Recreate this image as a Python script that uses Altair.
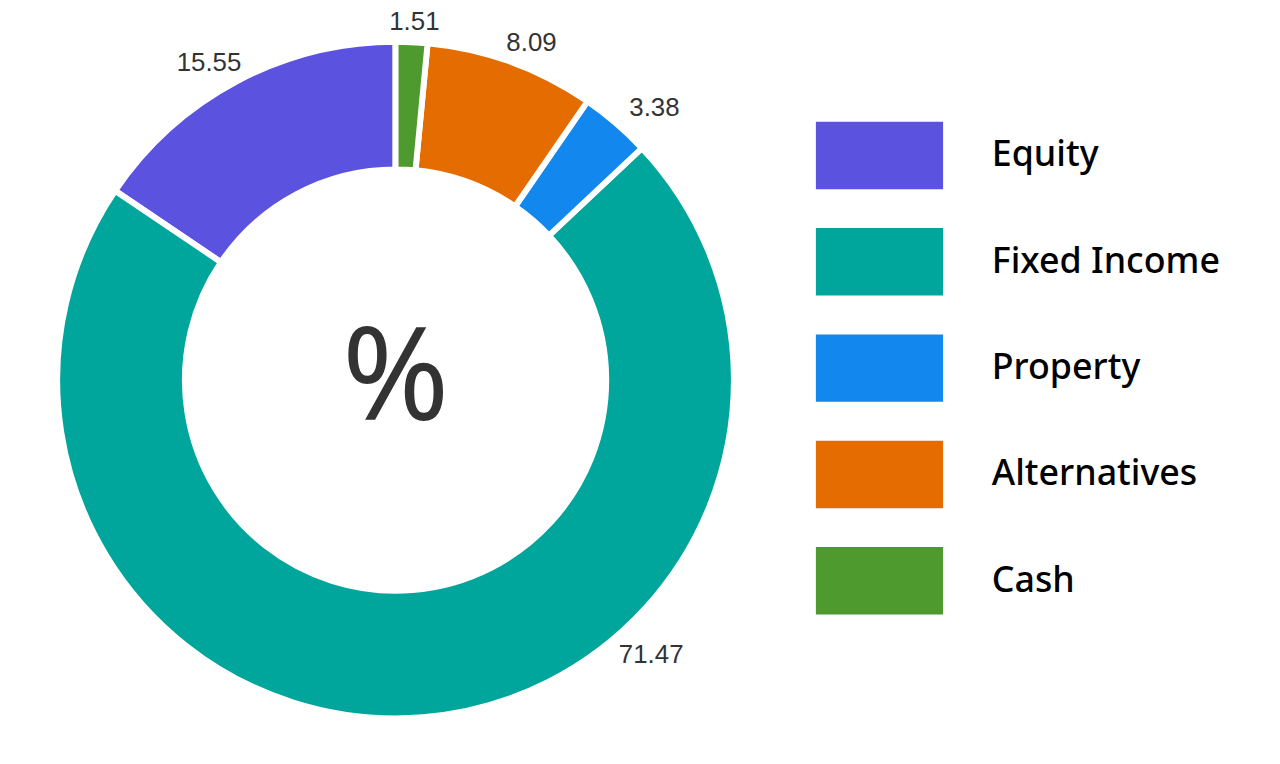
import altair as alt
import pandas as pd

categories = ["Equity", "Fixed Income", "Property", "Alternatives", "Cash"]
values = [15.55, 71.47, 3.38, 8.09, 1.51]
clockwise_rank = [5, 4, 3, 2, 1]
colors = ["#5B52DF", "#00A59B", "#1288EE", "#E56C00", "#4E9A2E"]
center_label = ["%"]

df = pd.DataFrame({"category": categories, "value": values, "rank": clockwise_rank})

theta_scale = alt.Scale(domain=[0, 100], range=[0, 6.283185307179586])

base = alt.Chart(df).transform_window(
    cum="sum(value)", sort=[alt.SortField("rank", order="ascending")]
).transform_calculate(
    start="datum.cum - datum.value",
    end="datum.cum",
    mid="datum.cum - datum.value / 2",
).transform_calculate(
    ang0="datum.mid / 100 * 2 * PI"
).transform_calculate(
    # keep labels that would fall below the ring up beside it
    ang="cos(datum.ang0) < -0.76 ? (datum.ang0 < PI ? 2.443 : 2 * PI - 2.443) : datum.ang0",
    txt="format(datum.value, '.2f')",
).transform_calculate(
    px="400 * sin(datum.ang)",
    py="361 * cos(datum.ang)",
).transform_calculate(
    lab_theta="atan2(datum.px, datum.py)",
    lab_r="sqrt(datum.px * datum.px + datum.py * datum.py)",
)

arcs = base.mark_arc(outerRadius=340.5, innerRadius=212, stroke="white", strokeWidth=6).encode(
    theta=alt.Theta("start:Q", scale=theta_scale),
    theta2="end:Q",
    color=alt.Color(
        "category:N",
        scale=alt.Scale(domain=categories, range=colors),
        sort=categories,
        legend=alt.Legend(
            title=None,
            orient="none",
            legendX=813,
            legendY=82,
            symbolType="M-1,-0.53L1,-0.53L1,0.53L-1,0.53Z",
            symbolSize=16384,
            symbolStrokeWidth=0,
            symbolOpacity=1,
            labelFont="Noto Sans",
            labelFontSize=36,
            labelFontWeight=500,
            labelColor="#000000",
            labelOffset=49,
            rowPadding=9,
            labelLimit=400,
        ),
    ),
)

labels = base.mark_text(
    font="Liberation Sans", fontSize=26, color="#333333", align="center", baseline="middle"
).encode(
    theta=alt.Theta("lab_theta:Q", scale=None, stack=None),
    radius=alt.Radius("lab_r:Q", scale=None),
    text="txt:N",
)

center = alt.Chart(pd.DataFrame({"t": center_label})).mark_text(
    font="Noto Sans", fontSize=130, color="#333333", align="center", baseline="middle", dy=1
).encode(text="t:N")

chart = alt.layer(arcs, labels, center).properties(
    width=780,
    height=744,
    autosize=alt.AutoSizeParams(type="none"),
    padding={"left": 0, "top": 0, "right": 492, "bottom": 12},
).configure_view(stroke=None)

chart.save("out.html", embed_options={"renderer": "svg", "actions": False})
